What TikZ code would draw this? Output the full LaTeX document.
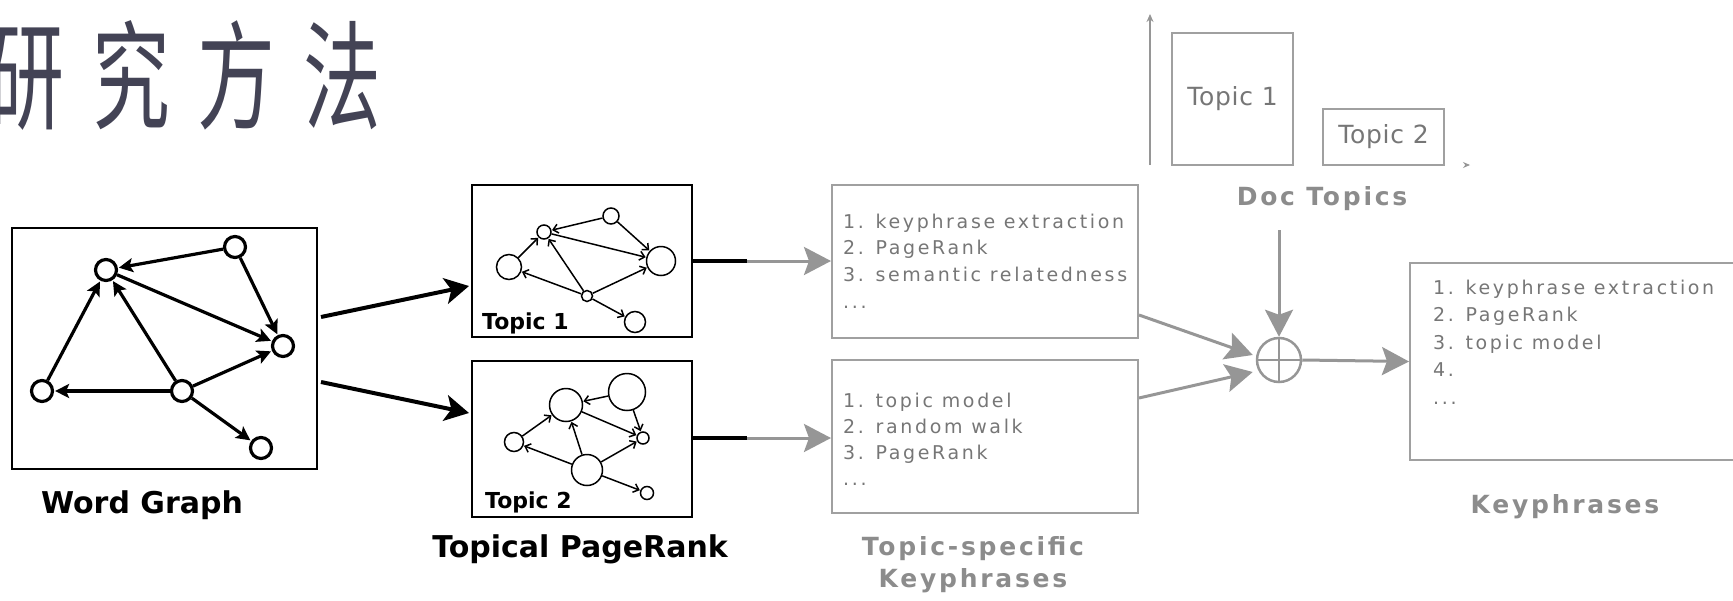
\documentclass[tikz,border=0pt]{standalone}
\usepackage{fontspec}
\setmainfont{DejaVu Sans}
\newfontfamily\cjk{Noto Sans CJK SC}
\newfontfamily\listfont[LetterSpace=14]{DejaVu Sans}
\newfontfamily\barfont[LetterSpace=3]{DejaVu Sans}
\newfontfamily\capfont[LetterSpace=11]{DejaVu Sans}
\usetikzlibrary{arrows.meta}

\definecolor{titlecol}{RGB}{67,67,85}
\definecolor{boxgray}{RGB}{160,160,160}
\definecolor{txtgray}{RGB}{118,118,118}
\definecolor{arrgray}{RGB}{150,150,150}
\definecolor{labgray}{RGB}{140,140,140}

\begin{document}
\begin{tikzpicture}[x=1pt,y=-1pt,
  wgnode/.style={circle,draw,line width=3.2pt,inner sep=0pt,minimum size=21pt},
  wgedge/.style={line width=3.2pt,-{Stealth[length=14pt,width=14pt,inset=3pt]},shorten >=1pt},
  tnode/.style={circle,draw,line width=1.5pt,inner sep=0pt},
  tedge/.style={line width=1.5pt,-{Straight Barb[length=5pt,width=9pt]},shorten >=0.5pt},
  framebox/.style={draw,line width=2pt,inner sep=0pt},
  kbox/.style={draw=boxgray,line width=2pt,inner sep=0pt},
  bar/.style={draw=boxgray,line width=2pt,inner sep=0pt,text=txtgray,
    font=\barfont\fontsize{25pt}{29pt}\selectfont},
  listtext/.style={anchor=north west,inner sep=0pt,align=left,text=txtgray},
  bigarrow/.style={line width=4pt,-{Stealth[length=24pt,width=26pt,inset=6pt]}},
  grayarrow/.style={draw=arrgray,line width=3pt,
    -{Stealth[length=27pt,width=28pt,inset=5pt,fill=arrgray]}},
  blacklab/.style={inner sep=0pt,font=\bfseries\fontsize{30pt}{36pt}\selectfont},
  graylab/.style={inner sep=0pt,text=labgray,
    font=\capfont\bfseries\fontsize{25pt}{32.5pt}\selectfont},
  toplab/.style={anchor=base west,inner sep=0pt,font=\bfseries\fontsize{22pt}{26pt}\selectfont}
]
\useasboundingbox (0,0) rectangle (1733,600);

% title
\node[inner sep=0pt,text=titlecol,font=\cjk\fontsize{118pt}{120pt}\selectfont] (title) at (184,75)
  {\scalebox{0.66}[1]{研\kern42pt 究\kern42pt 方\kern42pt 法}};

% ---- word graph ----
\node[framebox,minimum width=305pt,minimum height=241pt] (wg) at (164.5,348.5) {};
\node[wgnode] (A) at (106,270) {};
\node[wgnode] (B) at (235,247) {};
\node[wgnode] (C) at (283,346) {};
\node[wgnode] (D) at (42,391) {};
\node[wgnode] (E) at (182,391) {};
\node[wgnode] (F) at (261,448) {};
\draw[wgedge] (B) -- (A);
\draw[wgedge] (B) -- (C);
\draw[wgedge] (A) -- (C);
\draw[wgedge] (D) -- (A);
\draw[wgedge] (E) -- (A);
\draw[wgedge] (E) -- (D);
\draw[wgedge] (E) -- (C);
\draw[wgedge] (E) -- (F);
\node[blacklab,anchor=base] (wglab) at (142,513) {Word Graph};

% ---- topical pagerank ----
\node[framebox,minimum width=220pt,minimum height=152pt] (t1) at (582,261) {};
\node[framebox,minimum width=220pt,minimum height=156pt] (t2) at (582,439) {};

\node[tnode,minimum size=14pt] (a1) at (544,232) {};
\node[tnode,minimum size=16pt] (b1) at (611,216) {};
\node[tnode,minimum size=29pt] (c1) at (661,261) {};
\node[tnode,minimum size=25pt] (d1) at (509,267) {};
\node[tnode,minimum size=11pt] (e1) at (587,296) {};
\node[tnode,minimum size=21pt] (f1) at (635,322) {};
\draw[tedge] (b1) -- (a1);
\draw[tedge] (b1) -- (c1);
\draw[tedge] (a1) -- (c1);
\draw[tedge] (d1) -- (a1);
\draw[tedge] (e1) -- (a1);
\draw[tedge] (e1) -- (d1);
\draw[tedge] (e1) -- (c1);
\draw[tedge] (e1) -- (f1);
\node[toplab] (t1lab) at (482,329) {Topic 1};

\node[tnode,minimum size=33pt] (a2) at (566,405) {};
\node[tnode,minimum size=37pt] (b2) at (627,392) {};
\node[tnode,minimum size=12pt] (c2) at (643,438) {};
\node[tnode,minimum size=19pt] (d2) at (514,442) {};
\node[tnode,minimum size=31pt] (e2) at (587,470) {};
\node[tnode,minimum size=13pt] (f2) at (647,493) {};
\draw[tedge] (b2) -- (a2);
\draw[tedge] (b2) -- (c2);
\draw[tedge] (a2) -- (c2);
\draw[tedge] (d2) -- (a2);
\draw[tedge] (e2) -- (a2);
\draw[tedge] (e2) -- (d2);
\draw[tedge] (e2) -- (c2);
\draw[tedge] (e2) -- (f2);
\node[toplab] (t2lab) at (485,508) {Topic 2};

\node[blacklab,anchor=base] (tplab) at (580,557) {Topical PageRank};

\draw[bigarrow] ([shift={(3,-31.5)}]wg.east) -- ([shift={(-2,25)}]t1.west);
\draw[bigarrow] ([shift={(3,33.5)}]wg.east) -- ([shift={(-2,-26)}]t2.west);

% ---- topic-specific keyphrases ----
\node[kbox,minimum width=306pt,minimum height=153pt] (k1) at (985,261.5) {};
\node[kbox,minimum width=306pt,minimum height=153pt] (k2) at (985,436.5) {};
\node[listtext,font=\listfont\fontsize{19pt}{26.7pt}\selectfont] (k1txt) at (843,213.6)
  {1. keyphrase extraction\\2. PageRank\\3. semantic relatedness\\...};
\node[listtext,font=\listfont\fontsize{19pt}{26pt}\selectfont] (k2txt) at (843,392.6)
  {1. topic model\\2. random walk\\3. PageRank\\...};
\node[graylab,align=center,anchor=north] (kslab) at (973,536) {Topic-specific\\Keyphrases};

\coordinate (m1) at (747,261);
\coordinate (m2) at (747,438);
\draw[line width=3.5pt] (t1.east |- m1) -- (m1);
\draw[line width=3.5pt] (t2.east |- m2) -- (m2);
\draw[grayarrow] (m1) -- (k1.west |- m1);
\draw[grayarrow] (m2) -- (k2.west |- m2);

% ---- doc topics ----
\coordinate (ax0) at (1150,165);
\coordinate (axy) at (1150,14);
\coordinate (axx) at (1470,165);
\draw[arrgray,line width=2pt,-{Stealth[length=8pt,width=7pt]}] (ax0) -- (axy);
\draw[arrgray,line width=1pt,-{Stealth[length=7pt,width=6pt]}] ([shift={(-2,0)}]axx) -- (axx);
\node[bar,minimum width=121pt,minimum height=132pt] (dt1) at (1232.5,99) {Topic 1};
\node[bar,minimum width=121pt,minimum height=56pt] (dt2) at (1383.5,137) {Topic 2};
\node[graylab,anchor=base] (dtlab) at (1322,205) {Doc Topics};

% ---- combination ----
\node[circle,draw=arrgray,line width=2.5pt,minimum size=44pt,inner sep=0pt] (plus) at (1279,360) {};
\draw[arrgray,line width=2.5pt] (plus.north) -- (plus.south) (plus.west) -- (plus.east);
\coordinate (dtin) at (1279,230);
\draw[grayarrow] (dtin) -- (plus.north);
\draw[grayarrow] ([shift={(0,53.5)}]k1.east) -- ([shift={(-3,-5)}]plus.west);
\draw[grayarrow] ([shift={(0,-38.5)}]k2.east) -- ([shift={(-3,12)}]plus.west);

% ---- final keyphrases ----
\node[kbox,minimum width=350pt,minimum height=197pt] (fk) at (1585,361.5) {};
\node[listtext,font=\listfont\fontsize{19pt}{27.5pt}\selectfont] (fktxt) at (1433,279.5)
  {1. keyphrase extraction\\2. PageRank\\3. topic model\\4.\\...};
\draw[grayarrow] (plus.east) -- (fk.west);
\node[graylab,anchor=base] (fklab) at (1565,513) {Keyphrases};
\end{tikzpicture}
\end{document}
